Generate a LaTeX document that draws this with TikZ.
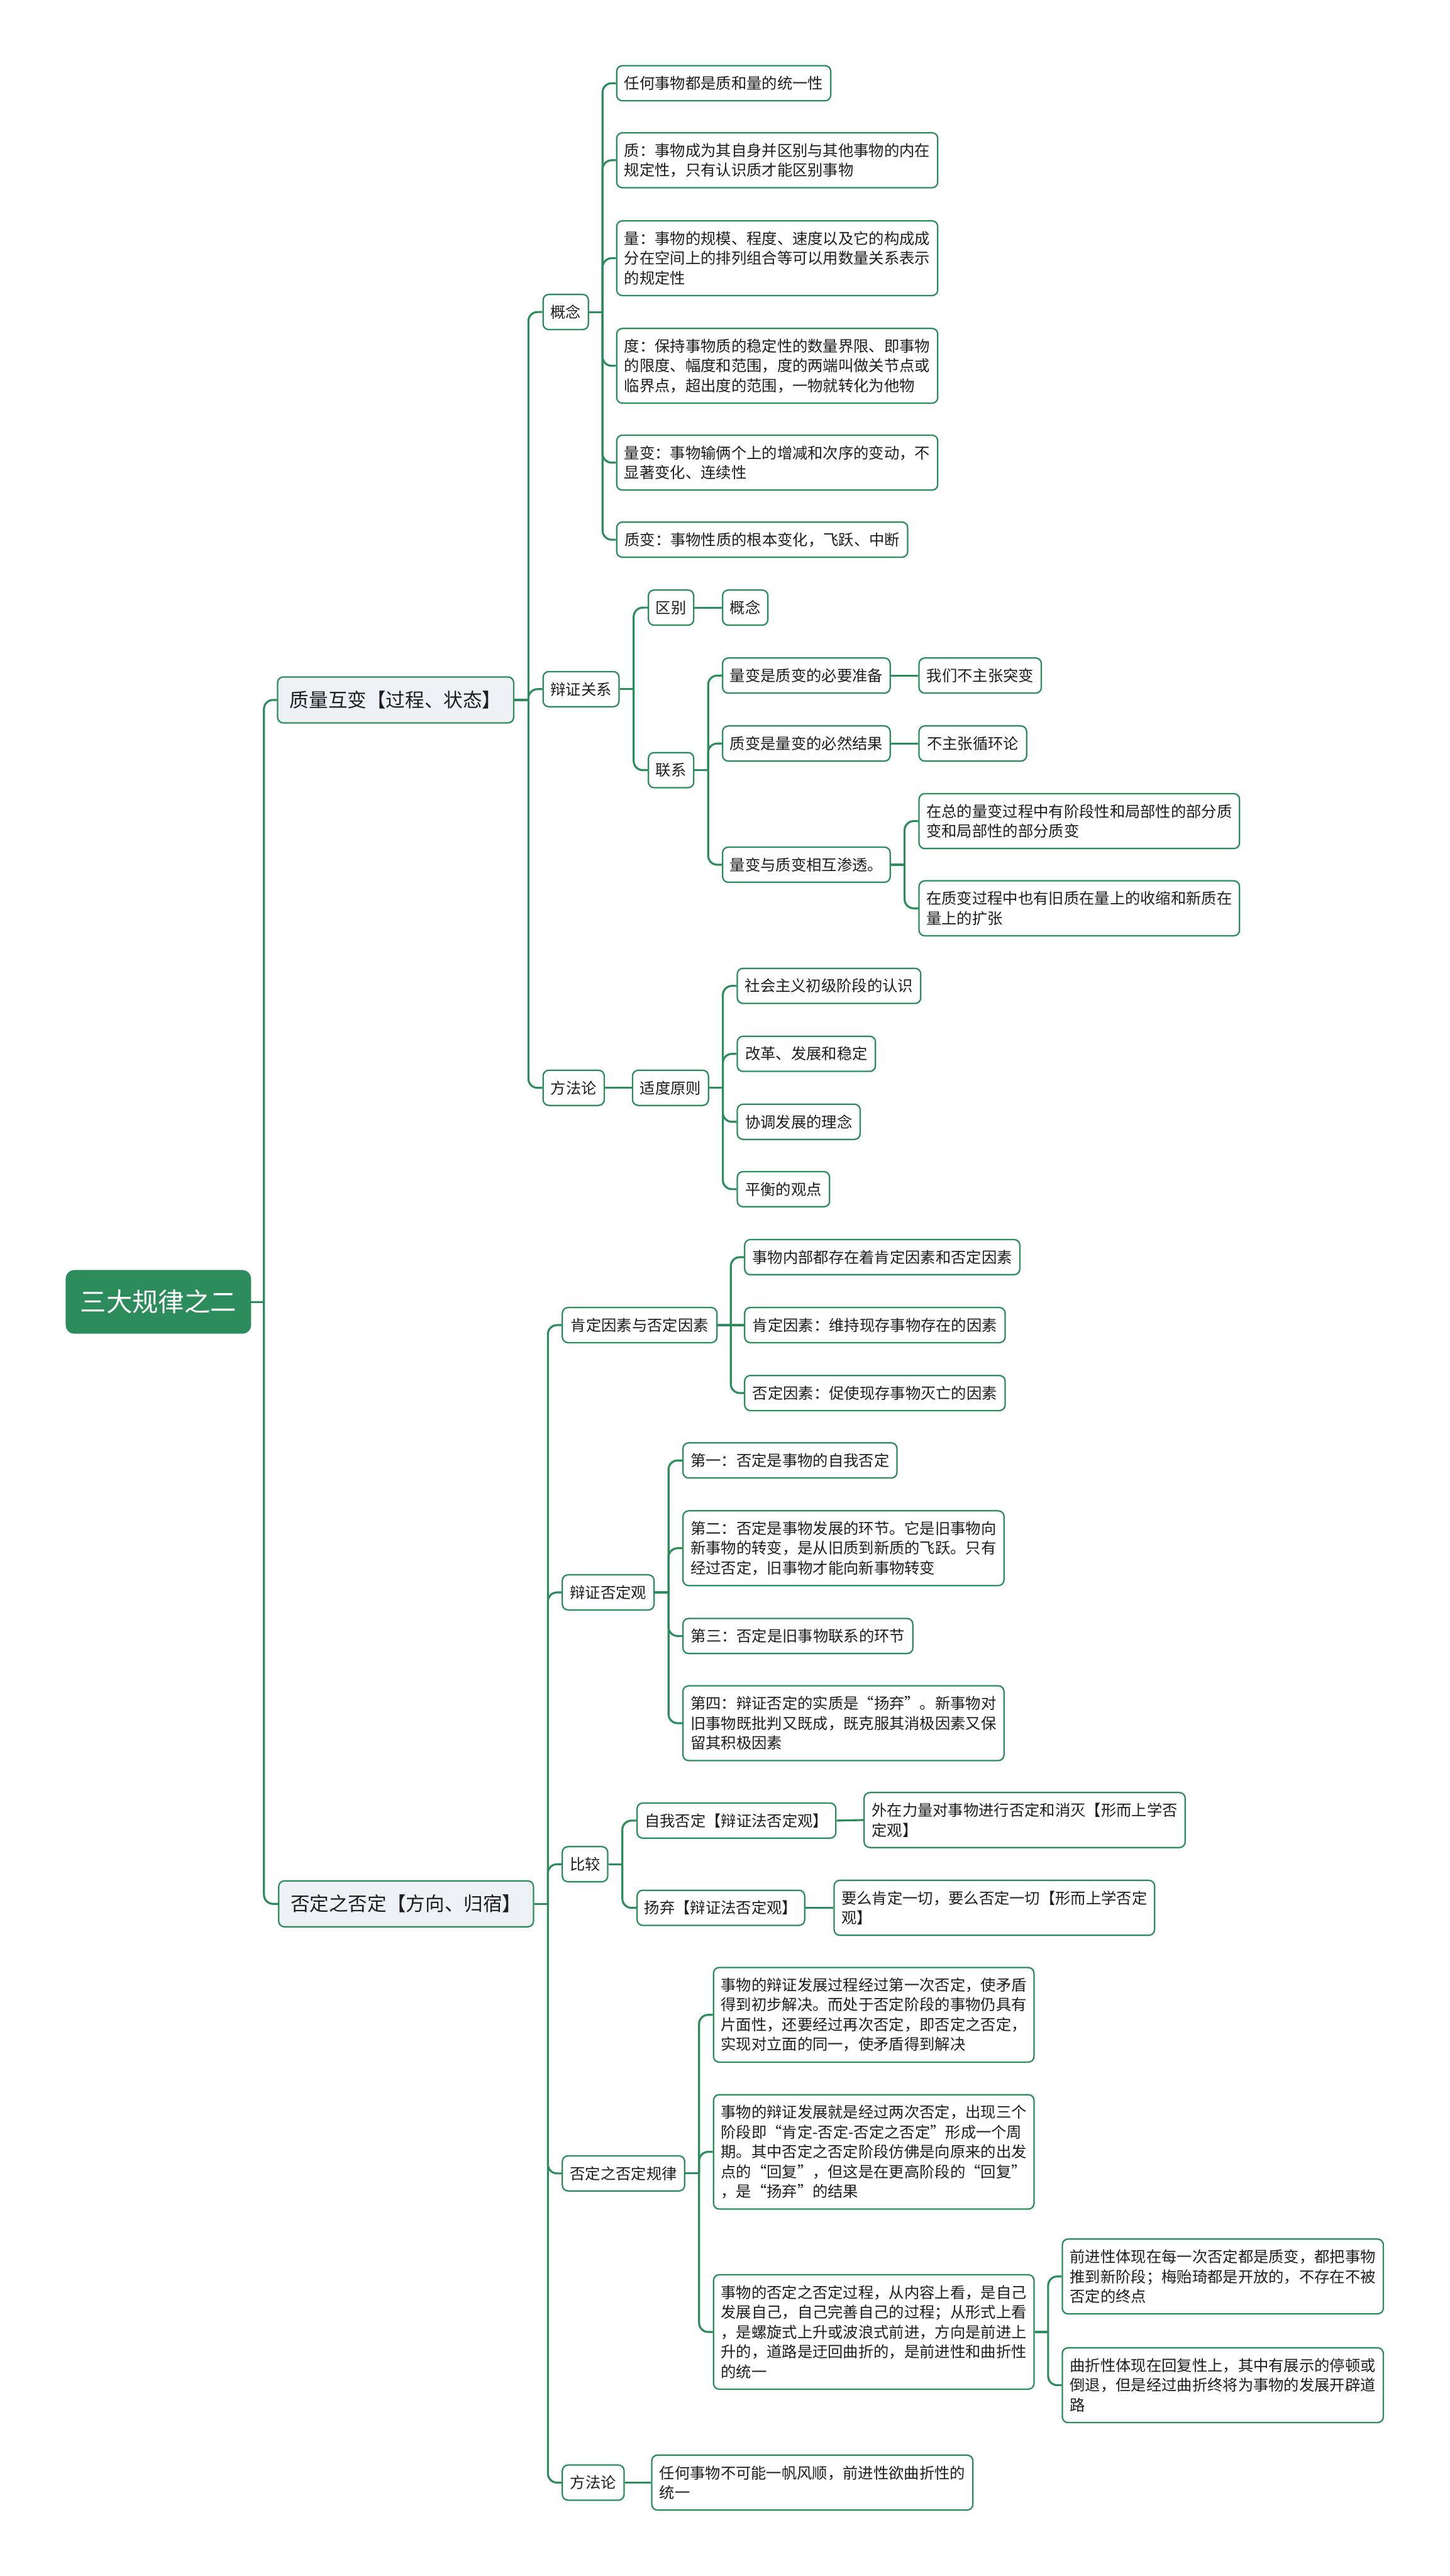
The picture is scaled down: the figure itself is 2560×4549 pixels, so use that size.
\documentclass[tikz,border=0pt]{standalone}
\usepackage{fontspec}
\newfontfamily\cjk{Noto Sans CJK SC}
\usetikzlibrary{calc,backgrounds}
\definecolor{mgreen}{RGB}{44,140,92}
\definecolor{lgray}{RGB}{237,241,244}
\definecolor{tx}{RGB}{30,30,30}
\newcommand\grp[3]{%
  \coordinate (T#1) at ($(#1.east)!.5!(#1.east -| #2.west)$);
  \draw[conn] (#1.east) -- (T#1);
  \foreach \c in {#3} {\draw[conn] (T#1) |- (\c.west);}
}
\begin{document}
\begin{tikzpicture}[x=1pt,y=-1pt,
  box/.style={draw=mgreen, line width=2.5pt, rounded corners=10pt, fill=white, text=tx,
    anchor=west, inner sep=0pt, align=left, font=\cjk\fontsize{27pt}{35pt}\selectfont,
    minimum height=62pt},
  two/.style={minimum height=97pt},
  three/.style={minimum height=132pt},
  four/.style={minimum height=167pt},
  five/.style={minimum height=202pt},
  lone/.style={box, fill=lgray, font=\cjk\fontsize{34pt}{42pt}\selectfont, minimum height=81pt},
  rootbox/.style={box, fill=mgreen, text=white, font=\cjk\fontsize{46pt}{55pt}\selectfont,
    minimum height=110pt, rounded corners=14pt},
  conn/.style={draw=mgreen, line width=3.5pt, rounded corners=16pt}]
\useasboundingbox (0,0) rectangle (2560,4549);

\node[rootbox, minimum width=325pt] (root) at (116,2299) {三大规律之二};
\node[lone, minimum width=417pt] (a) at (489,1236) {质量互变【过程、状态】};
\node[lone, minimum width=450pt] (b) at (491,3362) {否定之否定【方向、归宿】};

% ---- A1 概念
\node[box, minimum width=80pt] (a1) at (958,551) {概念};
\node[box, minimum width=378pt] (a11) at (1088,147) {任何事物都是质和量的统一性};
\node[box, two, minimum width=567pt] (a12) at (1088,283) {质：事物成为其自身并区别与其他事物的内在\\规定性，只有认识质才能区别事物};
\node[box, three, minimum width=567pt] (a13) at (1088,456) {量：事物的规模、程度、速度以及它的构成成\\分在空间上的排列组合等可以用数量关系表示\\的规定性};
\node[box, three, minimum width=567pt] (a14) at (1088,646) {度：保持事物质的稳定性的数量界限、即事物\\的限度、幅度和范围，度的两端叫做关节点或\\临界点，超出度的范围，一物就转化为他物};
\node[box, two, minimum width=567pt] (a15) at (1088,817) {量变：事物输俩个上的增减和次序的变动，不\\显著变化、连续性};
\node[box, minimum width=514pt] (a16) at (1088,953) {质变：事物性质的根本变化，飞跃、中断};

% ---- A2 辩证关系
\node[box, minimum width=134pt] (a2) at (958,1217) {辩证关系};
\node[box, minimum width=80pt] (a21) at (1144,1073) {区别};
\node[box, minimum width=80pt] (a211) at (1275,1073) {概念};
\node[box, minimum width=80pt] (a22) at (1144,1360) {联系};
\node[box, minimum width=296pt] (a221) at (1275,1193) {量变是质变的必要准备};
\node[box, minimum width=216pt] (a2211) at (1622,1193) {我们不主张突变};
\node[box, minimum width=296pt] (a222) at (1275,1313) {质变是量变的必然结果};
\node[box, minimum width=190pt] (a2221) at (1622,1313) {不主张循环论};
\node[box, minimum width=296pt] (a223) at (1275,1527) {量变与质变相互渗透。};
\node[box, two, minimum width=566pt] (a2231) at (1622,1450) {在总的量变过程中有阶段性和局部性的部分质\\变和局部性的部分质变};
\node[box, two, minimum width=566pt] (a2232) at (1622,1604) {在质变过程中也有旧质在量上的收缩和新质在\\量上的扩张};

% ---- A3 方法论
\node[box, minimum width=108pt] (a3) at (958,1921) {方法论};
\node[box, minimum width=134pt] (a31) at (1116,1921) {适度原则};
\node[box, minimum width=324pt] (a311) at (1301,1741) {社会主义初级阶段的认识};
\node[box, minimum width=244pt] (a312) at (1301,1861) {改革、发展和稳定};
\node[box, minimum width=217pt] (a313) at (1301,1981) {协调发展的理念};
\node[box, minimum width=163pt] (a314) at (1301,2100) {平衡的观点};

% ---- B1
\node[box, minimum width=273pt] (b1) at (992,2340) {肯定因素与否定因素};
\node[box, minimum width=486pt] (b11) at (1314,2220) {事物内部都存在着肯定因素和否定因素};
\node[box, minimum width=460pt] (b12) at (1314,2340) {肯定因素：维持现存事物存在的因素};
\node[box, minimum width=460pt] (b13) at (1314,2460) {否定因素：促使现存事物灭亡的因素};

% ---- B2
\node[box, minimum width=162pt] (b2) at (992,2812) {辩证否定观};
\node[box, minimum width=378pt] (b21) at (1205,2579) {第一：否定是事物的自我否定};
\node[box, three, minimum width=567pt] (b22) at (1205,2734) {第二：否定是事物发展的环节。它是旧事物向\\新事物的转变，是从旧质到新质的飞跃。只有\\经过否定，旧事物才能向新事物转变};
\node[box, minimum width=406pt] (b23) at (1205,2889) {第三：否定是旧事物联系的环节};
\node[box, three, minimum width=567pt] (b24) at (1205,3043) {第四：辩证否定的实质是“扬弃”。新事物对\\旧事物既批判又既成，既克服其消极因素又保\\留其积极因素};

% ---- B3
\node[box, minimum width=80pt] (b3) at (992,3292) {比较};
\node[box, minimum width=351pt] (b31) at (1124,3215) {自我否定【辩证法否定观】};
\node[box, two, minimum width=567pt] (b311) at (1525,3214) {外在力量对事物进行否定和消灭【形而上学否\\定观】};
\node[box, minimum width=296pt] (b32) at (1124,3369) {扬弃【辩证法否定观】};
\node[box, two, minimum width=566pt] (b321) at (1472,3369) {要么肯定一切，要么否定一切【形而上学否定\\观】};

% ---- B4
\node[box, minimum width=216pt] (b4) at (992,3838) {否定之否定规律};
\node[box, four, minimum width=566pt] (b41) at (1259,3558) {事物的辩证发展过程经过第一次否定，使矛盾\\得到初步解决。而处于否定阶段的事物仍具有\\片面性，还要经过再次否定，即否定之否定，\\实现对立面的同一，使矛盾得到解决};
\node[box, five, minimum width=566pt] (b42) at (1259,3800) {事物的辩证发展就是经过两次否定，出现三个\\阶段即“肯定-否定-否定之否定”形成一个周\\期。其中否定之否定阶段仿佛是向原来的出发\\点的“回复”，但这是在更高阶段的“回复”\\，是“扬弃”的结果};
\node[box, five, minimum width=566pt] (b43) at (1259,4118) {事物的否定之否定过程，从内容上看，是自己\\发展自己，自己完善自己的过程；从形式上看\\，是螺旋式上升或波浪式前进，方向是前进上\\升的，道路是迂回曲折的，是前进性和曲折性\\的统一};
\node[box, three, minimum width=567pt] (b431) at (1875,4020) {前进性体现在每一次否定都是质变，都把事物\\推到新阶段；梅贻琦都是开放的，不存在不被\\否定的终点};
\node[box, three, minimum width=567pt] (b432) at (1875,4212) {曲折性体现在回复性上，其中有展示的停顿或\\倒退，但是经过曲折终将为事物的发展开辟道\\路};

% ---- B5
\node[box, minimum width=109pt] (b5) at (992,4384) {方法论};
\node[box, two, minimum width=567pt] (b51) at (1150,4384) {任何事物不可能一帆风顺，前进性欲曲折性的\\统一};

\begin{scope}[on background layer]
\fill[white] (0,0) rectangle (2560,4549);
\grp{root}{a}{a,b}
\grp{a}{a1}{a1,a2,a3}
\grp{a1}{a11}{a11,a12,a13,a14,a15,a16}
\grp{a2}{a21}{a21,a22}
\draw[conn] (a21.east) -- (a211.west);
\grp{a22}{a221}{a221,a222,a223}
\draw[conn] (a221.east) -- (a2211.west);
\draw[conn] (a222.east) -- (a2221.west);
\grp{a223}{a2231}{a2231,a2232}
\draw[conn] (a3.east) -- (a31.west);
\grp{a31}{a311}{a311,a312,a313,a314}
\grp{b}{b1}{b1,b2,b3,b4,b5}
\grp{b1}{b11}{b11,b13}
\draw[conn] (b1.east) -- (b12.west);
\grp{b2}{b21}{b21,b22,b23,b24}
\grp{b3}{b31}{b31,b32}
\draw[conn] (b31.east) -- (b311.west);
\draw[conn] (b32.east) -- (b321.west);
\grp{b4}{b41}{b41,b42,b43}
\grp{b43}{b431}{b431,b432}
\draw[conn] (b5.east) -- (b51.west);
\end{scope}
\end{tikzpicture}
\end{document}
